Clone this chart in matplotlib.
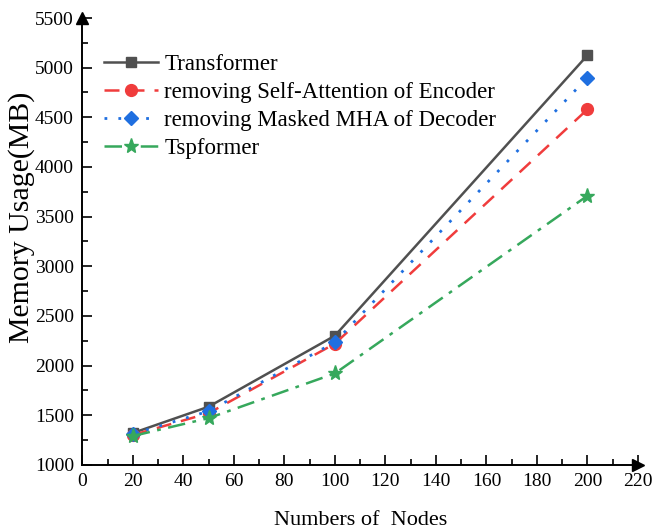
import matplotlib.pyplot as plt
from matplotlib.ticker import MultipleLocator

plt.rcParams["font.family"] = ["Liberation Serif", "DejaVu Serif"]

# ------------------------------------------------------------
# Data
# ------------------------------------------------------------
nodes = [20, 50, 100, 200]
transformer = [1320, 1585, 2300, 5125]
no_self_attn = [1300, 1520, 2220, 4580]
no_masked_mha = [1310, 1540, 2235, 4900]
tspformer = [1290, 1470, 1920, 3710]

labels = [
    "Transformer",
    "removing Self-Attention of Encoder",
    "removing Masked MHA of Decoder",
    "Tspformer",
]

fig = plt.figure(figsize=(6.53, 5.30), dpi=100)
ax = fig.add_axes([0.126, 0.123, 0.851, 0.843])

ax.plot(nodes, transformer, color="#505050", linestyle="-", linewidth=1.8,
        marker="s", markersize=7.5, label=labels[0], zorder=3)
ax.plot(nodes, no_self_attn, color="#f03c3c", linestyle=(0, (6, 4)), linewidth=1.8,
        marker="o", markersize=8.5, label=labels[1], zorder=4)
ax.plot(nodes, no_masked_mha, color="#1f6fe0", linestyle=(0, (1, 4)), linewidth=2.0,
        marker="D", markersize=7.5, label=labels[2], zorder=5)
ax.plot(nodes, tspformer, color="#36a85c", linestyle=(0, (7, 3, 1.5, 3)), linewidth=1.8,
        marker="*", markersize=11, label=labels[3], zorder=6)

ax.set_xlim(0, 220)
ax.set_ylim(1000, 5500)
ax.xaxis.set_major_locator(MultipleLocator(20))
ax.xaxis.set_minor_locator(MultipleLocator(10))
ax.yaxis.set_major_locator(MultipleLocator(500))
ax.yaxis.set_minor_locator(MultipleLocator(250))
ax.tick_params(which="major", direction="in", length=7, width=1.2, labelsize=14, pad=6)
ax.tick_params(which="minor", direction="in", length=4, width=1.2)

for side in ("top", "right"):
    ax.spines[side].set_visible(False)
for side in ("left", "bottom"):
    ax.spines[side].set_linewidth(1.4)

# arrow heads at the ends of the axes
ax.plot(1, 0, ">k", markersize=9, transform=ax.transAxes, clip_on=False)
ax.plot(0, 1, "^k", markersize=9, transform=ax.transAxes, clip_on=False)

ax.set_xlabel("Numbers of  Nodes", fontsize=16, labelpad=15)
ax.set_ylabel("Memory Usage(MB)", fontsize=21.5, va="center")
ax.yaxis.set_label_coords(-0.11, 0.555)

ax.legend(loc="upper left", bbox_to_anchor=(0.01, 0.955), frameon=False,
          fontsize=16.5, handlelength=2.35, handletextpad=0.28,
          labelspacing=0.3, borderaxespad=0.3)

fig.savefig("out.png", dpi=100)
